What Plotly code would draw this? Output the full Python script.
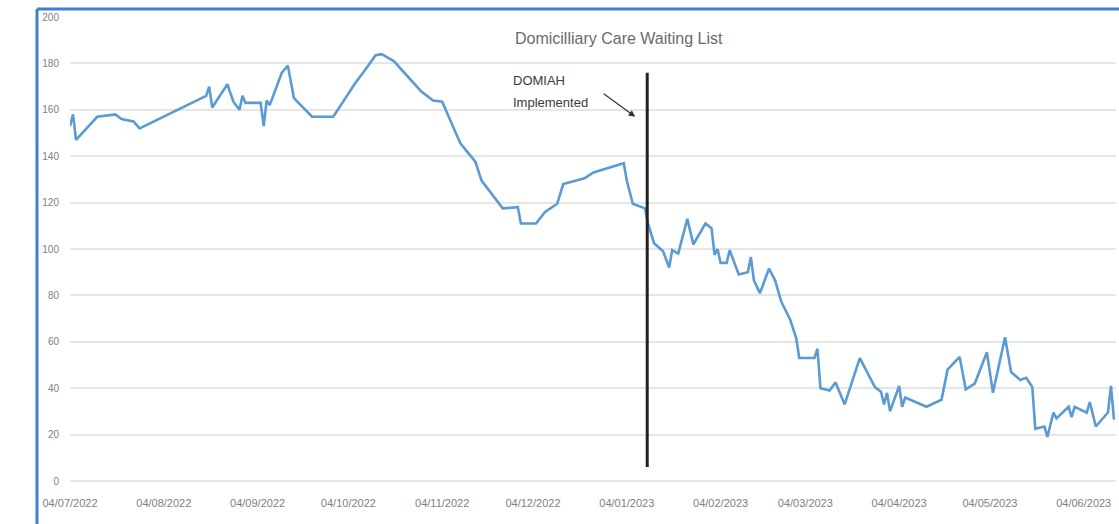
import plotly.graph_objects as go

# ---- data ----
dates = [
    "2022-07-04", "2022-07-05", "2022-07-06", "2022-07-13", "2022-07-19", "2022-07-21",
    "2022-07-25", "2022-07-27", "2022-08-18", "2022-08-19", "2022-08-20", "2022-08-25",
    "2022-08-27", "2022-08-29", "2022-08-30", "2022-08-31", "2022-09-05", "2022-09-06",
    "2022-09-07", "2022-09-08", "2022-09-12", "2022-09-14", "2022-09-16", "2022-09-22",
    "2022-09-29", "2022-10-06", "2022-10-10", "2022-10-13", "2022-10-15", "2022-10-19",
    "2022-10-28", "2022-11-01", "2022-11-04", "2022-11-10", "2022-11-15", "2022-11-17",
    "2022-11-24", "2022-11-29", "2022-11-30", "2022-12-05", "2022-12-08", "2022-12-12",
    "2022-12-14", "2022-12-21", "2022-12-24", "2023-01-03", "2023-01-04", "2023-01-06",
    "2023-01-10", "2023-01-11", "2023-01-13", "2023-01-16", "2023-01-18", "2023-01-19",
    "2023-01-21", "2023-01-24", "2023-01-26", "2023-01-30", "2023-02-01", "2023-02-02",
    "2023-02-03", "2023-02-04", "2023-02-06", "2023-02-07", "2023-02-10", "2023-02-13",
    "2023-02-14", "2023-02-15", "2023-02-17", "2023-02-20", "2023-02-22", "2023-02-24",
    "2023-02-27", "2023-03-01", "2023-03-02", "2023-03-07", "2023-03-08", "2023-03-09",
    "2023-03-12", "2023-03-14", "2023-03-17", "2023-03-22", "2023-03-27", "2023-03-29",
    "2023-03-30", "2023-03-31", "2023-04-01", "2023-04-04", "2023-04-05", "2023-04-06",
    "2023-04-13", "2023-04-18", "2023-04-20", "2023-04-21", "2023-04-24", "2023-04-26",
    "2023-04-29", "2023-05-03", "2023-05-05", "2023-05-09", "2023-05-11", "2023-05-14",
    "2023-05-16", "2023-05-18", "2023-05-19", "2023-05-22", "2023-05-23", "2023-05-25",
    "2023-05-26", "2023-05-30", "2023-05-31", "2023-06-01", "2023-06-05", "2023-06-06",
    "2023-06-08", "2023-06-12", "2023-06-13", "2023-06-14",
]
waiting_list = [
    153, 158, 147, 157, 158, 156,
    155, 152, 166, 170, 161, 171,
    163.5, 160, 166, 163, 163, 153,
    164, 162, 176, 179, 165, 157,
    157, 171, 178, 183.5, 184, 181,
    168, 164, 163.5, 145.5, 137.5, 129.5,
    117.5, 118, 111, 111, 116, 119.5,
    128, 130.5, 133, 137, 129.5, 119.5,
    117.5, 111, 102.5, 99, 92, 99.5,
    98, 113, 102, 111, 109, 97.5,
    100, 94, 94, 99.5, 89, 90,
    96.5, 86.5, 81, 91.5, 86.5, 77.5,
    69.5, 61.5, 53, 53, 57, 40,
    39, 42.5, 33, 53, 40.5, 38.5,
    33, 38, 30, 41, 32, 36,
    32, 35, 48, 49.5, 53.5, 39.5,
    42, 55.5, 38, 62, 47, 43.5,
    44.5, 40.5, 22.5, 23.5, 19, 29.5,
    27, 32, 27.5, 32, 29.5, 34,
    23.5, 29.5, 41, 26.5,
]
tick_dates = [
    "2022-07-04", "2022-08-04", "2022-09-04", "2022-10-04", "2022-11-04", "2022-12-04",
    "2023-01-04", "2023-02-04", "2023-03-04", "2023-04-04", "2023-05-04", "2023-06-04",
]
y_ticks = [0, 20, 40, 60, 80, 100, 120, 140, 160, 180, 200]

domiah_date = ["2023-01-10 18:00", "2023-01-10 18:00"]
domiah_extent = [6, 176]
chart_title = "Domicilliary Care Waiting List"

# ---- figure ----
fig = go.Figure()
fig.add_trace(go.Scatter(
    x=dates, y=waiting_list, mode="lines",
    line=dict(color="#5b9bd5", width=2.6),
    hoverinfo="x+y", showlegend=False,
))
fig.add_trace(go.Scatter(
    x=domiah_date, y=domiah_extent, mode="lines",
    line=dict(color="#222222", width=3),
    hoverinfo="skip", showlegend=False,
))

font_family = "Liberation Sans, Arial, sans-serif"

fig.update_layout(
    width=1119, height=524,
    margin=dict(l=70, r=3, t=17, b=43),
    paper_bgcolor="white", plot_bgcolor="white",
    font=dict(family=font_family, color="#808080", size=10),
    title=dict(
        text=chart_title, x=587 / 1119, xanchor="center", xref="paper",
        y=1 - 38 / 524, yanchor="middle", yref="container",
        font=dict(size=16, color="#6b6b6b", family=font_family),
    ),
    xaxis=dict(
        type="date", range=["2022-07-04", "2023-06-14 16:00"],
        tickvals=tick_dates, tickformat="%d/%m/%Y",
        showgrid=False, zeroline=False, showline=False,
        ticks="outside", ticklen=12, tickcolor="rgba(0,0,0,0)",
        tickfont=dict(size=11, color="#808080"),
    ),
    yaxis=dict(
        range=[0, 200], tickvals=y_ticks,
        showgrid=True, gridcolor="#e6e6e6", gridwidth=1.6,
        zeroline=True, zerolinecolor="#e6e6e6", zerolinewidth=1.6,
        showline=False,
        ticks="outside", ticklen=8, tickcolor="rgba(0,0,0,0)",
        tickfont=dict(size=10, color="#808080"),
    ),
    shapes=[
        # white text box behind the annotation
        dict(type="rect", xref="paper", yref="paper",
             x0=(503 - 70) / 1046, x1=(600 - 70) / 1046,
             y0=(481 - 116) / 464, y1=(481 - 57) / 464,
             fillcolor="white", line=dict(width=0), layer="between"),
        # selection frame of the original screenshot (top and left edges)
        dict(type="line", xref="paper", yref="paper",
             x0=-33 / 1046, x1=1.01, y0=(481 - 9) / 464, y1=(481 - 9) / 464,
             line=dict(color="#3d7fd0", width=3)),
        dict(type="line", xref="paper", yref="paper",
             x0=-33 / 1046, x1=-33 / 1046, y0=(481 - 9) / 464, y1=-0.1,
             line=dict(color="#3d7fd0", width=3)),
    ],
    annotations=[
        dict(text="DOMIAH", xref="paper", yref="paper",
             x=(511 - 70) / 1046, y=(481 - 80) / 464, xanchor="left", yanchor="middle",
             showarrow=False, font=dict(size=13, color="#3a3a3a", family=font_family)),
        dict(text="Implemented", xref="paper", yref="paper",
             x=(511 - 70) / 1046, y=(481 - 102) / 464, xanchor="left", yanchor="middle",
             showarrow=False, font=dict(size=13, color="#3a3a3a", family=font_family)),
        dict(text="", x="2023-01-06 19:00", y=157, xref="x", yref="y",
             showarrow=True, arrowhead=2, arrowsize=1.1, arrowwidth=1.2,
             arrowcolor="#333333", ax=-33, ay=-24, standoff=0),
    ],
)

fig.write_html(
    "out.html",
    config={"displayModeBar": False},
    post_script="document.body.style.margin='0px';document.body.style.overflow='hidden';",
)
